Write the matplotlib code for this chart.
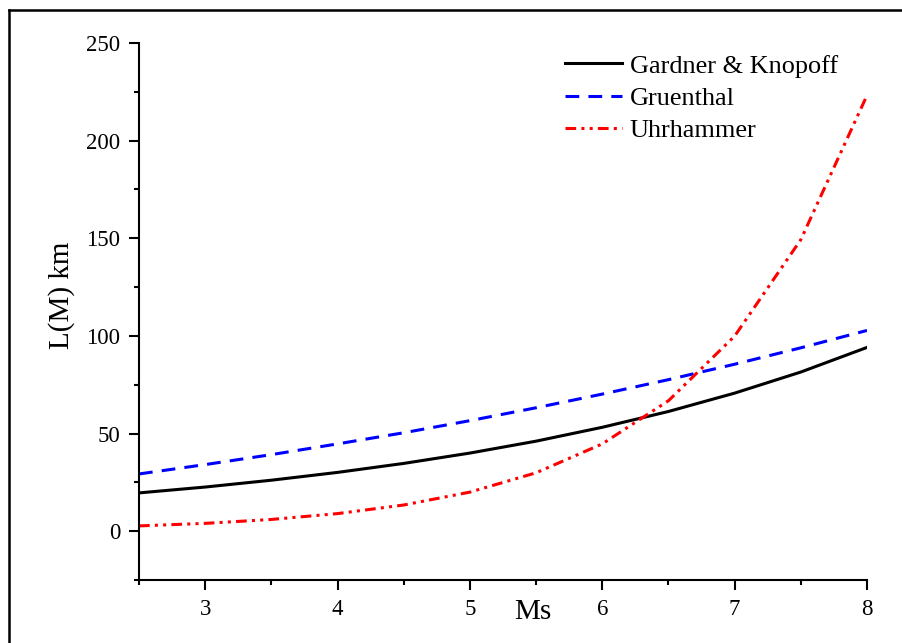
import numpy as np
import matplotlib
matplotlib.use("Agg")
import matplotlib.pyplot as plt
from matplotlib.lines import Line2D
from matplotlib.ticker import MultipleLocator

# magnitudes (Ms) and window lengths L(M) in km
ms = [2.5, 3.0, 3.5, 4.0, 4.5, 5.0, 5.5, 6.0, 6.5, 7.0, 7.5, 8.0]
gardner_knopoff = [19.6, 22.6, 26.1, 30.1, 34.7, 40.0, 46.1, 53.2, 61.3, 70.7, 81.5, 94.1]
gruenthal = [29.3, 34.1, 39.2, 44.7, 50.4, 56.6, 63.2, 70.2, 77.6, 85.5, 93.9, 102.8]
uhrhammer = [2.7, 4.0, 6.0, 9.0, 13.4, 20.0, 29.9, 44.7, 66.8, 99.9, 149.3, 223.2]

plt.rcParams["font.family"] = ["Liberation Serif", "DejaVu Serif"]

fig = plt.figure(figsize=(9.02, 6.43), dpi=100)
ax = fig.add_axes([0.1541, 0.098, 0.8071, 0.8351])

lw = 2.2
ax.plot(ms, gardner_knopoff, color="black", lw=lw, label="Gardner & Knopoff")
ax.plot(ms, gruenthal, color="blue", lw=lw, dashes=(4.5, 3), label="Gruenthal")
ax.plot(ms, uhrhammer, color="red", lw=lw, dashes=(3.5, 1.7, 1, 1.7, 1, 1.7), label="Uhrhammer")

ax.set_xlim(2.5, 8)
ax.set_ylim(-25, 250)
ax.xaxis.set_major_locator(MultipleLocator(1))
ax.xaxis.set_minor_locator(MultipleLocator(0.5))
ax.yaxis.set_major_locator(MultipleLocator(50))
ax.yaxis.set_minor_locator(MultipleLocator(25))

for side in ["top", "right"]:
    ax.spines[side].set_visible(False)
for side in ["left", "bottom"]:
    ax.spines[side].set_linewidth(1.5)

ax.tick_params(which="major", direction="out", length=7.5, width=1.5, labelsize=16.5, pad=6)
ax.tick_params(which="minor", direction="out", length=3.5, width=1.5)

ax.set_xlabel("Ms", fontsize=21)
ax.xaxis.set_label_coords(0.541, -0.0596)
ax.xaxis.label.set_va("center")
ax.set_ylabel("L(M) km", fontsize=21)
ax.yaxis.set_label_coords(-0.106, 0.531)
ax.yaxis.label.set_va("center")

ax.legend(loc="upper left", bbox_to_anchor=(0.585, 0.979), frameon=False,
          fontsize=18.9, handlelength=2.17, handletextpad=0.3, labelspacing=0.33,
          borderaxespad=0, borderpad=0)

# outer frame of the original figure (top and left edges only visible)
fig.add_artist(Line2D([0.00998, 1.0], [0.9844, 0.9844], transform=fig.transFigure, color="black", lw=1.8))
fig.add_artist(Line2D([0.00998, 0.00998], [0.0, 0.9844], transform=fig.transFigure, color="black", lw=1.8))

fig.savefig("out.png", dpi=100)
